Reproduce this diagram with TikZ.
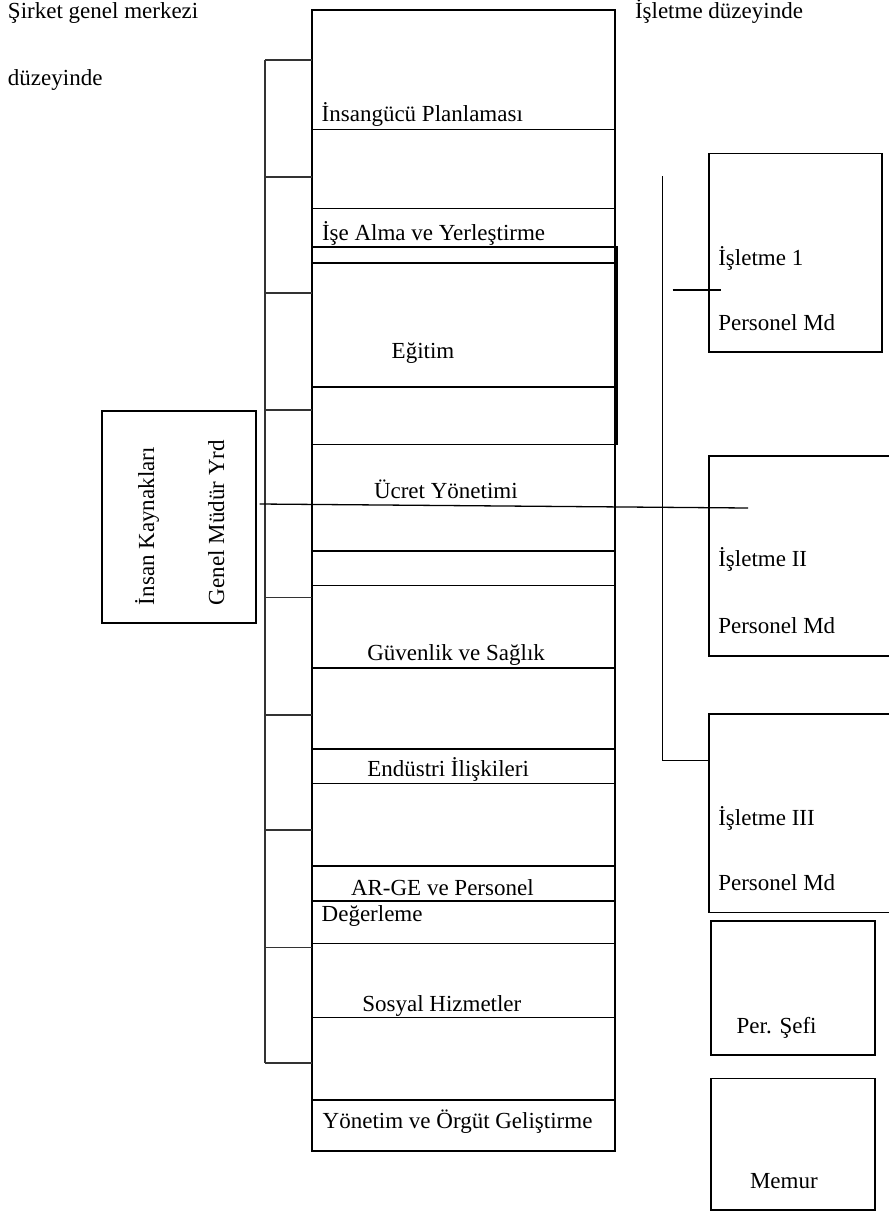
\documentclass[tikz,border=0pt]{standalone}
\usepackage{fontspec}
\setmainfont{Liberation Serif}
\begin{document}
\begin{tikzpicture}[x=1pt,y=-1pt,
  cell/.style={draw, line width=1.6pt, rectangle, inner sep=0pt, outer sep=0pt, anchor=north west},
  lbl/.style={anchor=base west, inner sep=0pt, outer sep=0pt, font=\fontsize{23}{27}\selectfont},
  brk/.style={line width=1.3pt, black!80},
  link/.style={line width=1.3pt}]
\useasboundingbox (0,0) rectangle (889,1211);
\clip (0,0) rectangle (889,1211);

% a box given by name, left, top, right, bottom
\newcommand\cellbox[5]{\node[cell, minimum width={#4pt-#2pt}, minimum height={#5pt-#3pt}] (#1) at (#2,#3) {};}

% headings
\node[lbl] (h1) at (8,18) {Şirket genel merkezi};
\node[lbl] (h2) at (8,85) {düzeyinde};
\node[lbl] (h3) at (635,18) {İşletme düzeyinde};

% central column of functions
\cellbox{cA}{312}{10}{615}{129.3}
\cellbox{cB}{312}{129.3}{615}{208.3}
\cellbox{cC}{312}{208.3}{615}{247}
\cellbox{cD}{312}{247}{615}{262.7}
\cellbox{cE}{312}{262.7}{615}{386.7}
\cellbox{cF}{312}{386.7}{615}{444.3}
\cellbox{cR}{312}{247}{617}{444.3}
\cellbox{cG}{312}{444.3}{615}{550.7}
\cellbox{cH}{312}{550.7}{615}{585.5}
\cellbox{cI}{312}{585.5}{615}{668}
\cellbox{cJ}{312}{668}{615}{749}
\cellbox{cK}{312}{749}{615}{783.3}
\cellbox{cL}{312}{783.3}{615}{865.7}
\cellbox{cM}{312}{865.7}{615}{900.7}
\cellbox{cN}{312}{900.7}{615}{943.3}
\cellbox{cO}{312}{943.3}{615}{1017.3}
\cellbox{cP}{312}{1017.3}{615}{1100}
\cellbox{cQ}{312}{1100}{615}{1150.7}

\node[lbl] (tA) at (321.7,121.7) {İnsangücü Planlaması};
\node[lbl] (tC) at (322,240) {İşe Alma ve Yerleştirme};
\node[lbl] (tE) at (391.7,358.3) {Eğitim};
\node[lbl] (tG) at (374,498.3) {Ücret Yönetimi};
\node[lbl] (tI) at (367.3,660.7) {Güvenlik ve Sağlık};
\node[lbl] (tK) at (367.3,776.7) {Endüstri İlişkileri};
\node[lbl] (tM) at (351,895) {AR-GE ve Personel};
\node[lbl] (tN) at (321.7,921.7) {Değerleme};
\node[lbl] (tO) at (362.3,1011.7) {Sosyal Hizmetler};
\node[lbl] (tQ) at (322.7,1128.3) {Yönetim ve Örgüt Geliştirme};

% bracket joining the functions
\coordinate (spT) at (265,60);
\coordinate (spB) at (265,1063);
\draw[brk] (spT) -- (spB);
\foreach \yy in {60,177,293,410,597.5,715,830,947.5,1063}
  \draw[brk] (spT |- 0,\yy) -- (cA.west |- 0,\yy);

% deputy general manager
\cellbox{gm}{101.7}{410.7}{255.7}{622.7}
\node[lbl, rotate=90] (gm1) at (154,605) {İnsan Kaynakları};
\node[lbl, rotate=90] (gm2) at (224,605) {Genel Müdür Yrd};

% plant level boxes
\cellbox{p1}{709}{153.3}{881.7}{351.7}
\cellbox{p2}{709}{456}{900}{656}
\cellbox{p3}{709}{714}{900}{912.3}
\cellbox{ps}{710.7}{921}{875}{1055}
\cellbox{pm}{710.7}{1078.3}{875}{1210}

\node[lbl] (p1a) at (718.3,265) {İşletme 1};
\node[lbl] (p1b) at (718.3,330) {Personel Md};
\node[lbl] (p2a) at (718.3,566.7) {İşletme II};
\node[lbl] (p2b) at (718.3,633.3) {Personel Md};
\node[lbl] (p3a) at (718.3,825) {İşletme III};
\node[lbl] (p3b) at (718.3,890.7) {Personel Md};
\node[lbl] (psa) at (736.7,1033.3) {Per. Şefi};
\node[lbl] (pma) at (750,1188.3) {Memur};

% connectors
\coordinate (hrR) at (748,508);
\draw[link] ([xshift=4pt]gm.east |- 0,504) -- (hrR);
\coordinate (vT) at (662.7,176);
\coordinate (v3) at (709,760.7);
\draw[link] (vT) |- (v3);
\coordinate (s1L) at (672.7,290);
\coordinate (s1R) at (720.7,290);
\draw[link] (s1L) -- (s1R);
\end{tikzpicture}
\end{document}
